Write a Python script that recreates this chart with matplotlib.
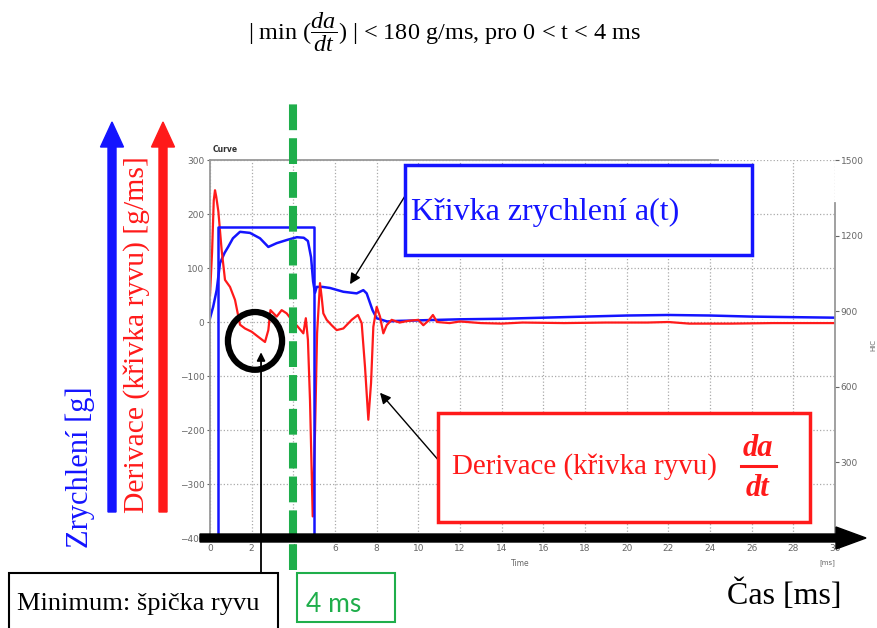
import matplotlib
matplotlib.use("Agg")
import matplotlib.pyplot as plt
from matplotlib.patches import Rectangle, Ellipse, FancyArrow

plt.rcParams['mathtext.fontset'] = 'custom'
plt.rcParams['mathtext.rm'] = 'Liberation Serif'
plt.rcParams['mathtext.it'] = 'Liberation Serif:italic'

# acceleration a(t) [g]
acc_t = [0, 0.15, 0.32, 0.48, 0.7, 0.87, 1.1, 1.44, 1.92, 2.4, 2.8, 3.2, 3.7, 4.17, 4.5,
         4.7, 4.85, 4.95, 5.04, 5.12, 5.4, 5.76, 6.4, 7.04, 7.36, 7.52, 7.8, 8.0, 8.5, 9.0,
         10, 11, 12, 14, 16, 18, 20, 22, 24, 26, 28, 30]
acc_g = [7, 28, 59, 109, 128, 139, 155, 167, 165, 155, 139, 146, 152, 157, 156,
         150, 120, 75, 54, 65, 65, 63, 56, 53, 59, 53, 22, 7, 1, 2,
         3, 4, 5, 6, 8, 10, 12, 13, 12, 10, 9, 8]

# derivative da/dt [g/ms]
jerk_t = [0, 0.1, 0.18, 0.24, 0.3, 0.4, 0.56, 0.72, 0.96, 1.2, 1.44, 1.68, 2.0, 2.3, 2.64,
          2.8, 2.9, 3.2, 3.44, 3.68, 4.0, 4.2, 4.48, 4.6, 4.7, 4.8, 4.93, 5.04, 5.14, 5.28,
          5.36, 5.44, 5.6, 5.84, 6.08, 6.4, 6.8, 7.1, 7.28, 7.44, 7.6, 7.73, 7.84, 8.0, 8.16,
          8.32, 8.48, 8.72, 9.1, 9.5, 10.0, 10.24, 10.5, 10.7, 10.9, 11.5, 12, 13, 14, 15,
          17, 19, 21, 22, 23, 25, 27, 30]
jerk = [50, 130, 225, 244, 232, 205, 133, 78, 65, 41, -5, -12, -18, -27, -37,
        -15, 22, 10, 22, 16, 0, -8, -21, 7, -33, -145, -360, -206, -21, 72,
        46, 16, 4, -6, -15, -12, 4, 13, -2, -83, -181, -113, -9, 28, 10,
        -21, -6, 4, -1, 2, 4, -6, 3, 13, 0, -2, 1, -2, -3, -1,
        -2, -1, -1, 0, -3, -3, -2, -2]

# HIC window
hic_t = [0.38, 0.38, 5.0, 5.0]
hic = [0, 1235, 1235, 0]

x_ticks = list(range(0, 31, 2))
y_ticks = list(range(-400, 301, 100))
hic_ticks = [300, 600, 900, 1200, 1500]
t_limit = 4
t_min, jerk_min = 2.16, -35

serif = 'Liberation Serif'
blue = '#1414ff'
red = '#ff1a1a'
green = '#1fae4b'
grey = '#666666'

fig = plt.figure(figsize=(8.78, 6.28), dpi=100)
ax = fig.add_axes([210/878, 90/628, 625/878, 378/628])
ax.plot(acc_t, acc_g, color=blue, lw=1.8)
ax.plot(jerk_t, jerk, color=red, lw=1.6)
ax.set_xlim(0, 30)
ax.set_ylim(-400, 300)
ax.set_xticks(x_ticks)
ax.set_yticks(y_ticks)
ax.grid(color='#aaaaaa', ls=':', lw=0.9)
ax.tick_params(labelsize=6.5, colors=grey, length=2, pad=2)
for s in ['left', 'top']:
    ax.spines[s].set_color('#999999')
    ax.spines[s].set_linewidth(1.3)
ax.spines['top'].set_bounds(0, 24.4)
ax.spines['right'].set_visible(False)
ax.spines['bottom'].set_visible(False)

ax2 = ax.twinx()
ax2.plot(hic_t, hic, color=blue, lw=1.8)
ax2.set_ylim(0, 1500)
ax2.set_yticks(hic_ticks)
ax2.tick_params(labelsize=6.5, colors=grey, length=3, pad=1)
for s in ['left', 'top', 'bottom']:
    ax2.spines[s].set_visible(False)
ax2.spines['right'].set_color('#999999')
ax2.spines['right'].set_linewidth(1.3)
ax2.spines['right'].set_bounds(0, 1330)

# 4 ms limit and minimum marker
ax2.axvline(t_limit, ymin=-0.085, ymax=1.16, clip_on=False, color=green, lw=5.8,
            linestyle=(0, (3.2, 1.0)))
ax2.add_patch(Ellipse((t_min, jerk_min), 2.6, 107, transform=ax.transData,
                      fill=False, ec='black', lw=4.5))

ov = fig.add_axes([0, 0, 1, 1], zorder=10)
ov.set_xlim(0, 878)
ov.set_ylim(628, 0)
ov.axis('off')

arr = dict(arrowstyle='-|>', color='black', lw=1.0, mutation_scale=16, shrinkA=0, shrinkB=0)
ax2.annotate('', xy=(6.72, 70), xycoords=ax.transData, xytext=(405, 196),
             textcoords=ov.transData, arrowprops=arr)
ax2.annotate('', xy=(8.16, -131), xycoords=ax.transData, xytext=(440, 462),
             textcoords=ov.transData, arrowprops=arr)
ax2.annotate('', xy=(2.45, -56), xycoords=ax.transData, xytext=(261, 573),
             textcoords=ov.transData,
             arrowprops=dict(arrowstyle='-|>', color='black', lw=1.3, mutation_scale=12,
                             shrinkA=0, shrinkB=0))

# big arrows
ov.add_patch(FancyArrow(200, 538, 666, 0, width=8, head_width=22, head_length=30,
                        length_includes_head=True, color='black'))
ov.add_patch(FancyArrow(112, 512, 0, -390, width=8, head_width=23, head_length=25,
                        length_includes_head=True, color=blue))
ov.add_patch(FancyArrow(163, 512, 0, -390, width=8, head_width=23, head_length=25,
                        length_includes_head=True, color=red))

# boxes
ov.add_patch(Rectangle((405, 165), 347, 90, fc='white', ec=blue, lw=2.5))
ov.text(411, 212, 'Křivka zrychlení a(t)', color=blue, fontsize=23, family=serif,
        va='center', ha='left')
ov.add_patch(Rectangle((438, 413), 372, 109, fc='white', ec=red, lw=2.5))
ov.text(452, 467, 'Derivace (křivka ryvu)', color=red, fontsize=20.8, family=serif,
        va='center', ha='left')
ov.text(758, 448, 'da', color=red, fontsize=22, family=serif, weight='bold',
        style='italic', ha='center', va='center')
ov.plot([741, 776], [466, 466], color=red, lw=2.2)
ov.text(758, 488, 'dt', color=red, fontsize=22, family=serif, weight='bold',
        style='italic', ha='center', va='center')

ov.add_patch(Rectangle((9, 573), 269, 70, fc='white', ec='black', lw=1.5, clip_on=False))
ov.text(17, 604, 'Minimum: špička ryvu', color='black', fontsize=19, family=serif,
        va='center', ha='left')
ov.add_patch(Rectangle((297, 573), 98, 49, fc='white', ec=green, lw=1.5))
ov.text(306, 605, '4 ms', color=green, fontsize=19, family='Lato', va='center', ha='left')

ov.text(727, 595, 'Čas [ms]', color='black', fontsize=23, family=serif, va='center', ha='left')
ov.text(80, 548, 'Zrychlení [g]', color=blue, fontsize=22, family=serif, rotation=90,
        ha='center', va='bottom')
ov.text(137, 513, 'Derivace (křivka ryvu) [g/ms]', color=red, fontsize=21.3, family=serif,
        rotation=90, ha='center', va='bottom')

ov.text(445, 32, r'| min ($\dfrac{da}{dt}$) | < 180 g/ms, pro 0 < t < 4 ms', fontsize=17.5,
        family=serif, ha='center', va='center')

# small chart captions
ov.text(213, 150, 'Curve', fontsize=5.5, color='#333333', weight='bold', va='center')
ov.text(520, 563, 'Time', fontsize=5.5, color=grey, ha='center', va='center')
ov.text(827, 563, '[ms]', fontsize=5, color=grey, ha='center', va='center')
ov.text(873, 345, 'HIC', fontsize=5, color=grey, rotation=90, ha='center', va='center')

fig.savefig('out.png', dpi=100, facecolor='white')
